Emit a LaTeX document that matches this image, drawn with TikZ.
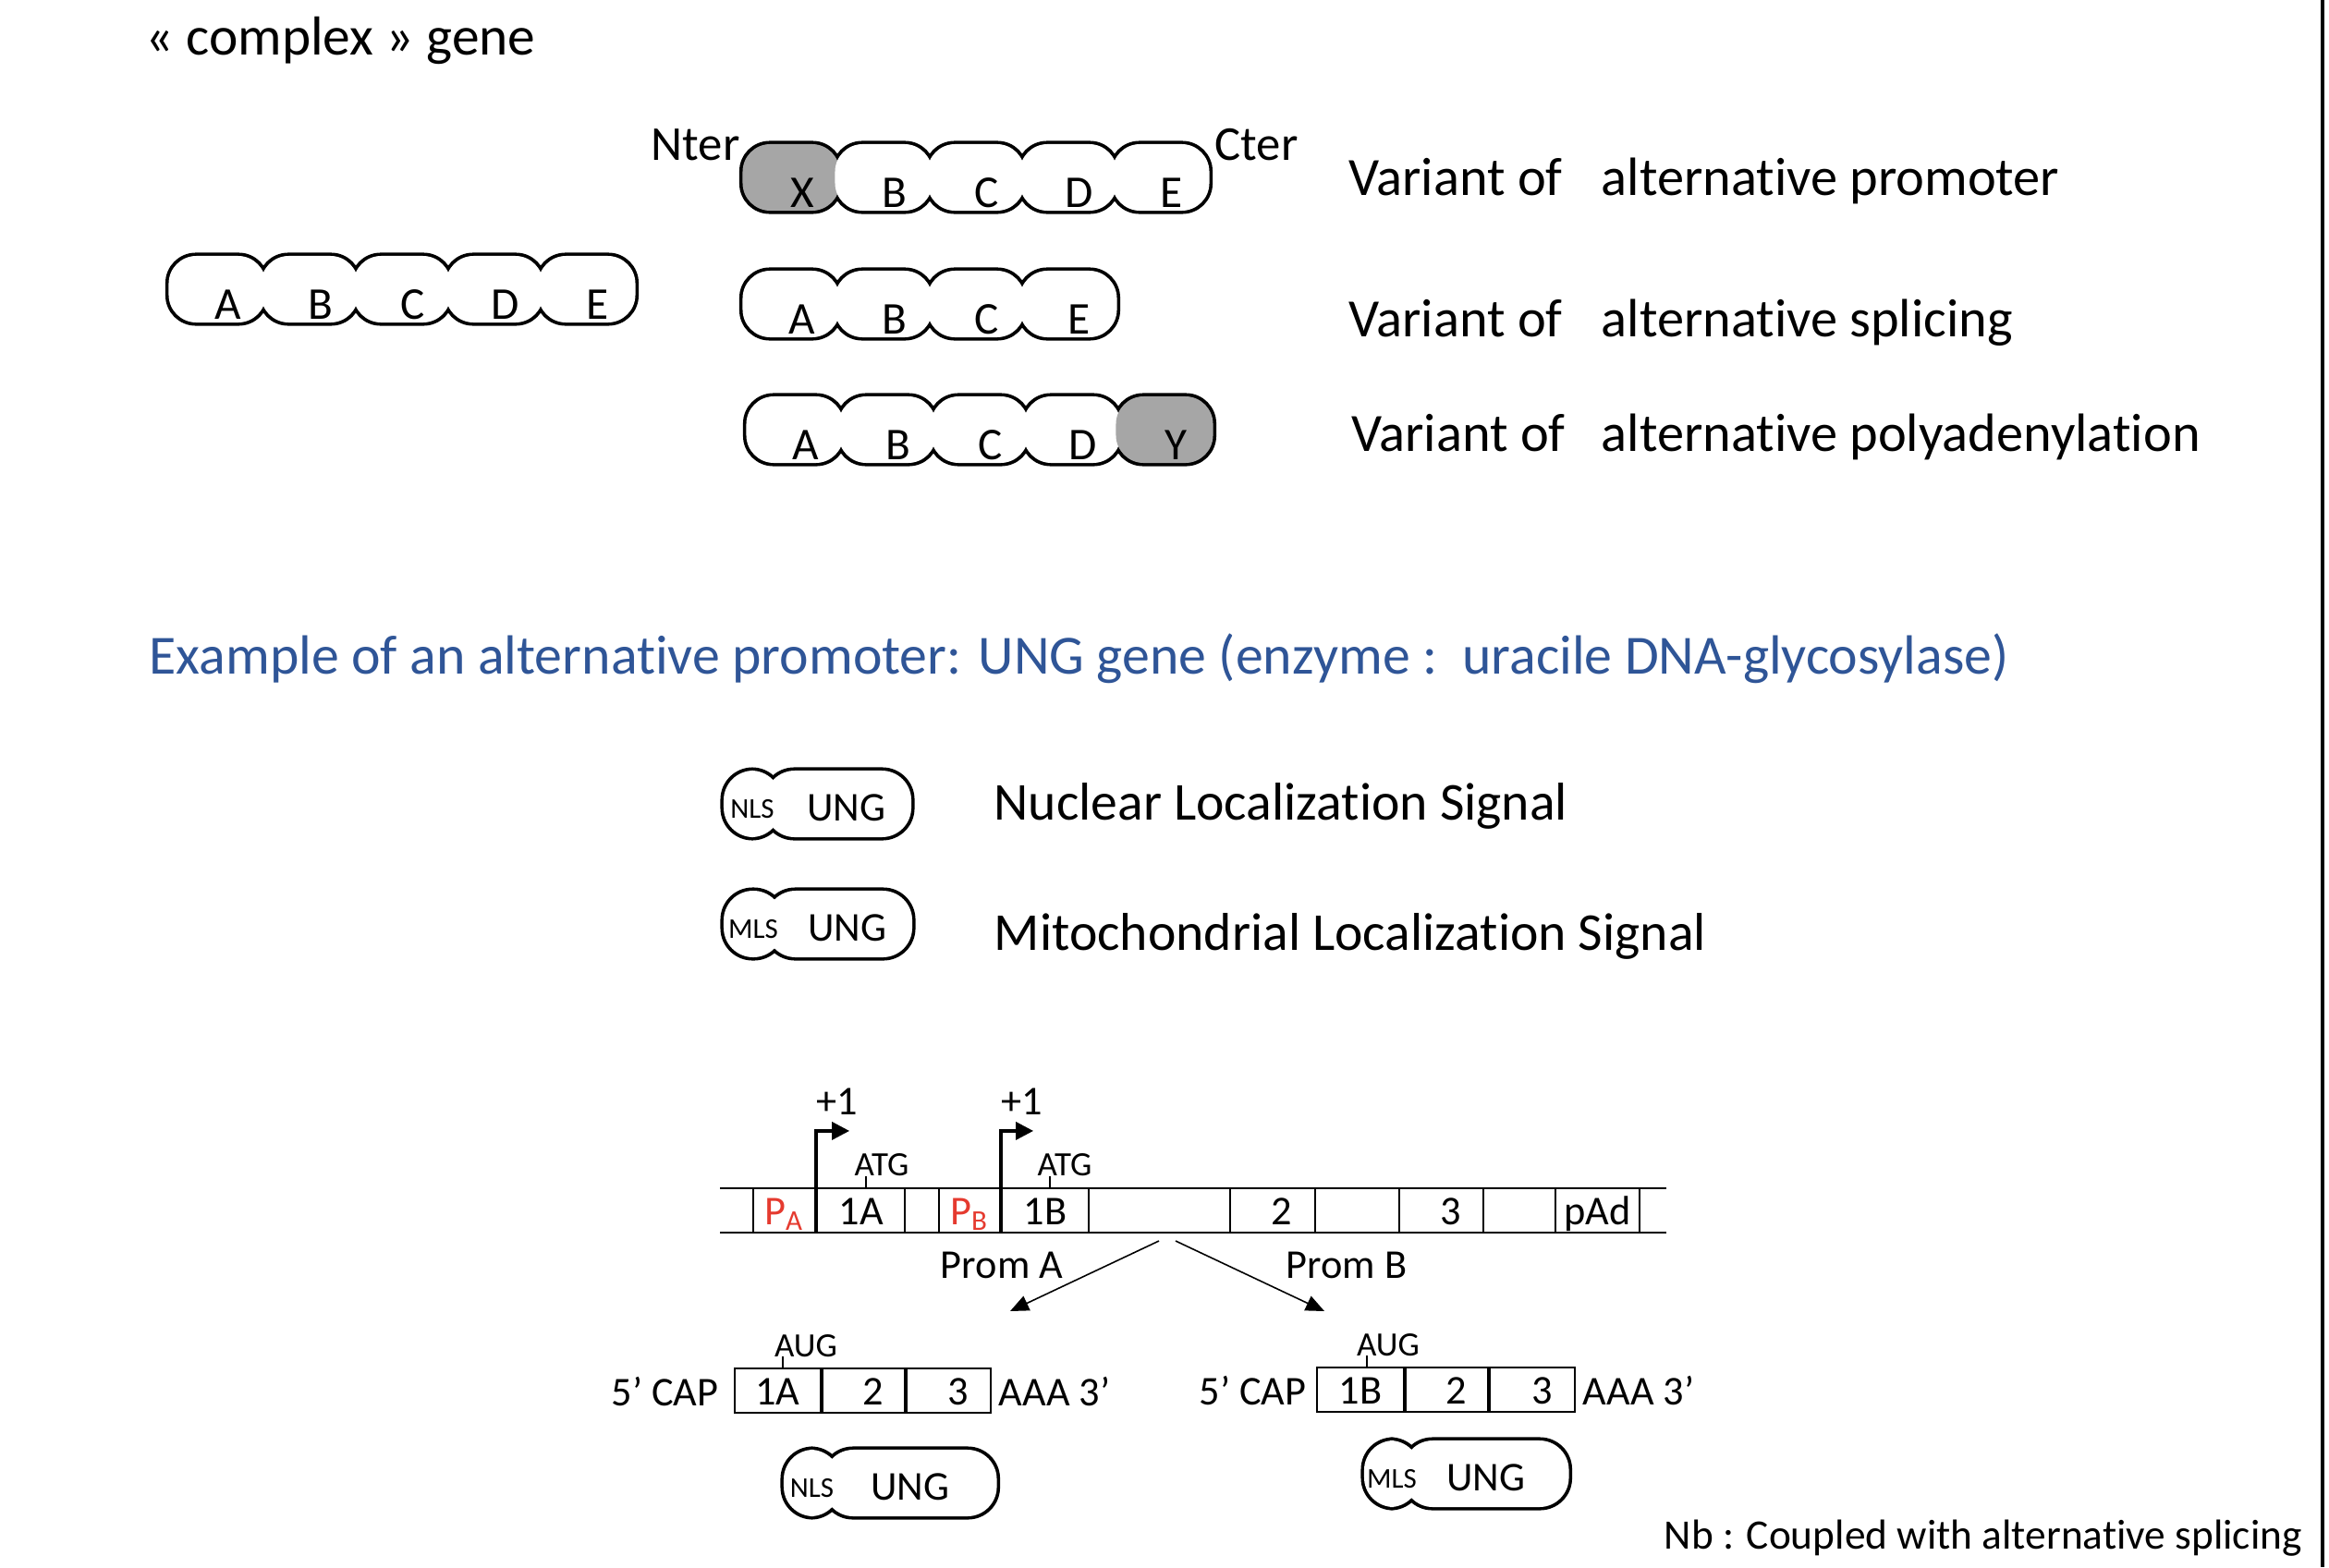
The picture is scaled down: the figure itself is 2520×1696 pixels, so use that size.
\documentclass[tikz,border=0pt]{standalone}
\usepackage{fontspec}
\setmainfont{Carlito}[Ligatures=NoCommon]
\usetikzlibrary{arrows.meta,backgrounds,positioning}

\definecolor{domgray}{HTML}{A6A6A6}
\definecolor{titleblue}{HTML}{2F5597}
\definecolor{promred}{HTML}{E53A2F}

\newcommand{\bigtxt}{\fontsize{16.6}{19}\selectfont}
\newcommand{\smalltxt}{\fontsize{10.5}{12}\selectfont}
\newcommand{\tinytxt}{\fontsize{8.8}{10}\selectfont}

\tikzset{
  every node/.append style={inner sep=0pt},
  bead/.style={rectangle, rounded corners=0.3cm, minimum width=1.05cm,
    minimum height=0.72cm, inner sep=0pt, fill=white, text height=0.64cm,
    text depth=0pt, font=\fontsize{14}{16}\selectfont,
    execute at begin node={\hspace*{0.24cm}}},
  ungpart/.style={rectangle, rounded corners=0.32cm, minimum height=0.72cm,
    inner sep=0pt, fill=white, text height=0.36cm, text depth=0pt},
  sigpart/.style={ungpart, text height=0.3cm, font=\tinytxt},
  outline/.style={line width=1.6pt},
  exon/.style={draw, line width=0.6pt, minimum height=0.48cm, inner sep=0pt,
    fill=white, text height=0.3cm, text depth=0pt},
  dna/.style={line width=0.8pt},
  tss/.style={line width=1pt, -{Triangle[length=0.19cm, width=0.19cm]}},
  tick/.style={line width=0.4pt},
  fork/.style={line width=0.45pt, -{Triangle[length=0.2cm, width=0.17cm]}},
  prot/.style={font=\bigtxt},
  term/.style={font=\fontsize{15}{17}\selectfont}
}

\begin{document}
\begin{tikzpicture}[x=0.01cm, y=-0.01cm, font=\fontsize{12.6}{15}\selectfont]
\useasboundingbox (0,0) rectangle (2520,1696);

\node[anchor=base west, font=\fontsize{16.9}{19}\selectfont] (title) at (157,59) {« complex » gene};

% reference protein
\node[bead] (g1) at (235,313) {A};
\node[bead] (g2) at (335,313) {B};
\node[bead] (g3) at (435,313) {C};
\node[bead] (g4) at (535,313) {D};
\node[bead] (g5) at (635,313) {E};

% variants
\node[bead, fill=domgray] (p1) at (856,192) {X};
\node[bead] (p2) at (956,192) {B};
\node[bead] (p3) at (1056,192) {C};
\node[bead] (p4) at (1156,192) {D};
\node[bead] (p5) at (1256,192) {E};

\node[bead] (s1) at (856,329) {A};
\node[bead] (s2) at (956,329) {B};
\node[bead] (s3) at (1056,329) {C};
\node[bead] (s4) at (1156,329) {E};

\node[bead] (a1) at (860,465) {A};
\node[bead] (a2) at (960,465) {B};
\node[bead] (a3) at (1060,465) {C};
\node[bead] (a4) at (1160,465) {D};
\node[bead, fill=domgray] (a5) at (1260,465) {Y};

\node[anchor=base west, term] (nter) at (704,173) {Nter};
\node[anchor=base west, term] (cter) at (1314,173) {Cter};

\node[anchor=base west, prot] (var1) at (1459,211) {Variant of};
\node[anchor=base west, prot] (alt1) at (1732,211) {alternative promoter};
\node[anchor=base west, prot] (var2) at (1459,364) {Variant of};
\node[anchor=base west, prot] (alt2) at (1732,364) {alternative splicing};
\node[anchor=base west, prot] (var3) at (1462,488) {Variant of};
\node[anchor=base west, prot] (alt3) at (1732,488) {alternative polyadenylation};

% UNG example
\node[anchor=base west, font=\fontsize{17}{19}\selectfont, text=titleblue] (example) at (161,729)
  {Example of an alternative promoter: UNG gene (enzyme :\ \ uracile DNA-glycosylase)};

\node[ungpart, minimum width=1.58cm] (ung1) at (907,870) {\hspace*{0.18cm}UNG};
\node[sigpart, minimum width=0.62cm] (nls1) at (814,870) {NLS};
\node[ungpart, minimum width=1.58cm] (ung2) at (908,1000) {\hspace*{0.18cm}UNG};
\node[sigpart, minimum width=0.64cm] (mls2) at (815,1000) {MLS};
\node[anchor=base west, font=\fontsize{16.4}{19}\selectfont] (nlstxt) at (1075,887) {Nuclear Localization Signal};
\node[anchor=base west, font=\fontsize{16.4}{19}\selectfont] (mlstxt) at (1075,1028) {Mitochondrial Localization Signal};

% gene
\coordinate (dnaL1) at (779,1286);
\coordinate (dnaR1) at (1803,1286);
\coordinate (dnaL2) at (779,1334);
\coordinate (dnaR2) at (1803,1334);
\draw[dna] (dnaL1) -- (dnaR1);
\draw[dna] (dnaL2) -- (dnaR2);

\node[exon, minimum width=0.67cm] (pa) at (848.5,1310) {\textcolor{promred}{P\textsubscript{A}}};
\node[exon, minimum width=0.95cm, right=0pt of pa] (x1a) {1A};
\node[exon, minimum width=0.66cm] (pb) at (1049,1310) {\textcolor{promred}{P\textsubscript{B}}};
\node[exon, minimum width=0.94cm, right=0pt of pb] (x1b) {1B};
\node[exon, minimum width=0.92cm] (x2) at (1377,1310) {\hspace*{0.2cm}2};
\node[exon, minimum width=0.91cm] (x3) at (1559.5,1310) {\hspace*{0.2cm}3};
\node[exon, minimum width=0.91cm] (pad) at (1728.5,1310) {pAd};

\draw[tss] (x1a.north west) -- ++(0,-61) -- ++(36,0);
\draw[tss] (x1b.north west) -- ++(0,-61) -- ++(35,0);
\node[anchor=base] (plus1a) at (906,1206) {+1};
\node[anchor=base] (plus1b) at (1106,1206) {+1};
\node[anchor=base, font=\smalltxt] (atga) at (954,1272) {ATG};
\node[anchor=base, font=\smalltxt] (atgb) at (1152,1272) {ATG};
\draw[tick] ([xshift=0.54cm]x1a.north west) -- ++(0,-12);
\draw[tick] ([xshift=0.53cm]x1b.north west) -- ++(0,-12);

\coordinate (forkA) at (1254,1343);
\coordinate (forkB) at (1272,1343);
\coordinate (endA) at (1093,1419);
\coordinate (endB) at (1433,1419);
\draw[fork] (forkA) -- (endA);
\draw[fork] (forkB) -- (endB);
\node[anchor=base] (promA) at (1084,1383) {Prom A};
\node[anchor=base] (promB) at (1457,1383) {Prom B};

% mRNA A
\node[exon, minimum width=0.93cm] (ma1) at (841.5,1505) {1A};
\node[exon, minimum width=0.89cm, right=0pt of ma1] (ma2) {\hspace*{0.2cm}2};
\node[exon, minimum width=0.91cm, right=0pt of ma2] (ma3) {\hspace*{0.2cm}3};
\node[anchor=base east] (capa) at (778,1521) {5’ CAP};
\node[anchor=base west] (polya) at (1080,1521) {AAA 3’};
\node[anchor=base, font=\smalltxt] (auga) at (872,1468) {AUG};
\draw[tick] ([xshift=0.53cm]ma1.north west) -- ++(0,-12);

% mRNA B
\node[exon, minimum width=0.94cm] (mb1) at (1472,1504) {1B};
\node[exon, minimum width=0.89cm, right=0pt of mb1] (mb2) {\hspace*{0.2cm}2};
\node[exon, minimum width=0.92cm, right=0pt of mb2] (mb3) {\hspace*{0.2cm}3};
\node[anchor=base east] (capb) at (1414,1520) {5’ CAP};
\node[anchor=base west] (polyb) at (1712,1520) {AAA 3’};
\node[anchor=base, font=\smalltxt] (augb) at (1502,1467) {AUG};
\draw[tick] ([xshift=0.55cm]mb1.north west) -- ++(0,-12);

% proteins
\node[ungpart, minimum width=1.87cm] (ung3) at (985,1605) {UNG};
\node[sigpart, minimum width=0.61cm] (nls3) at (878.5,1605) {NLS};
\node[ungpart, minimum width=1.79cm] (ung4) at (1608,1595) {UNG};
\node[sigpart, minimum width=0.60cm] (mls4) at (1506,1595) {MLS};

\node[anchor=base west, font=\fontsize{12.9}{15}\selectfont] (nb) at (1800,1676) {Nb : Coupled with alternative splicing};

\draw[line width=0.9pt] (2513,0) -- (2513,1696);

% outlines behind the filled shapes
\begin{scope}[on background layer]
  \foreach \n in {g1,g2,g3,g4,g5,p1,p2,p3,p4,p5,s1,s2,s3,s4,a1,a2,a3,a4,a5}
    \draw[outline, rounded corners=0.3cm] (\n.south west) rectangle (\n.north east);
  \foreach \n in {ung1,nls1,ung2,mls2,ung3,nls3,ung4,mls4}
    \draw[outline, rounded corners=0.32cm] (\n.south west) rectangle (\n.north east);
\end{scope}
\end{tikzpicture}
\end{document}
